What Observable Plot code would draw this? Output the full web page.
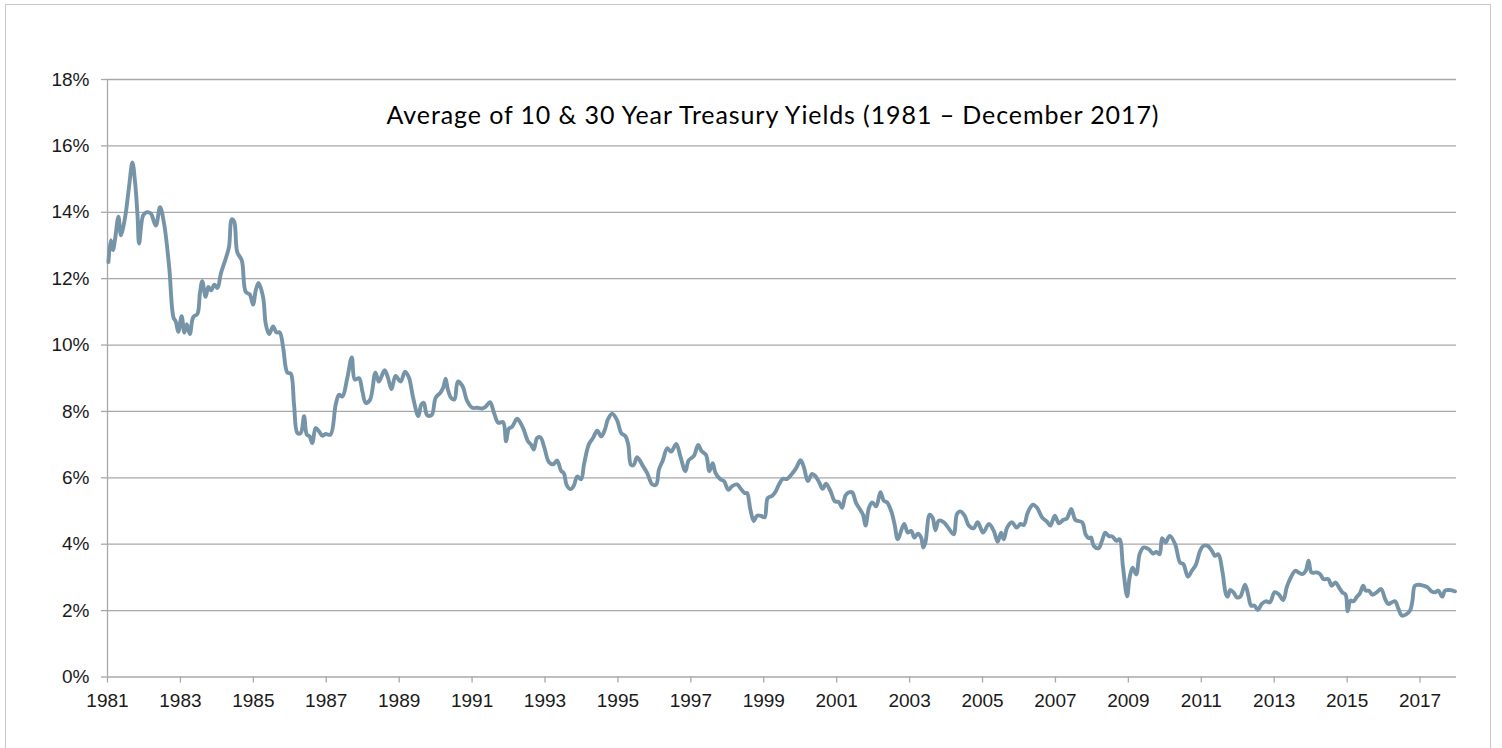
<!DOCTYPE html>
<html><head><meta charset="utf-8">
<script src="https://cdn.jsdelivr.net/npm/d3@7"></script>
<script src="https://cdn.jsdelivr.net/npm/@observablehq/plot@0.6"></script>
<style>
html,body{margin:0;padding:0;background:#fff;width:1502px;height:748px;overflow:hidden;}
#wrap{position:relative;width:1502px;height:748px;}
#border{position:absolute;left:5px;top:4px;width:1486px;height:780px;border:1px solid #c8c8c8;box-sizing:border-box;}
#chart{position:absolute;left:0;top:0;}
</style></head><body>
<div id="wrap"><div id="border"></div><div id="chart"></div></div>
<script>
// Months since January 1981 and the yield (%)
const months = [
0.3,1.1,1.8,2.5,3.6,4.4,5.1,6.0,7.1,8.2,9.1,9.9,10.4,11.7,12.8,14.2,15.9,17.3,18.6,20.3,
21.7,22.5,23.3,24.4,25.3,26.1,27.1,28.2,29.6,30.4,31.2,32.3,33.2,34.1,35.2,36.2,37.3,38.9,40.0,40.9,
41.7,42.7,44.2,45.5,46.8,47.9,48.8,49.7,51.2,52.1,53.2,54.5,55.6,56.7,57.8,59.2,60.3,61.4,62.5,63.6,
64.7,65.6,66.5,67.4,68.5,69.6,70.7,71.8,73.4,75.1,76.2,77.3,78.9,80.4,81.4,82.8,83.9,85.0,86.4,88.2,
89.3,91.2,92.3,93.5,94.8,96.5,97.9,99.2,100.6,102.3,103.3,104.1,105.2,106.7,108.0,109.6,110.5,111.3,112.0,113.1,
114.2,115.3,116.8,118.4,120.1,121.7,123.3,124.4,125.9,127.2,128.6,130.2,131.2,132.1,133.2,134.8,135.9,137.0,138.4,139.4,
140.3,141.4,142.5,143.8,145.3,146.7,148.0,149.3,150.2,151.1,152.4,153.5,154.6,155.9,156.8,158.4,159.8,161.2,162.5,163.7,
164.7,166.1,167.7,169.1,170.5,171.4,172.3,173.2,174.3,176.2,177.6,179.3,180.6,181.5,182.8,184.2,185.5,187.2,188.6,190.2,
191.3,193.0,194.4,195.5,197.0,198.1,199.2,200.1,201.8,202.9,204.3,205.6,207.2,208.7,209.8,210.5,211.6,212.7,213.8,215.2,
216.3,217.3,218.8,219.9,221.0,222.3,223.7,225.3,226.7,228.1,229.2,230.5,231.9,233.0,234.3,235.4,236.5,238.0,239.4,240.7,
241.8,242.9,244.0,245.1,246.4,247.8,248.7,249.5,250.6,251.7,253.0,254.4,255.5,256.6,258.0,259.1,260.1,262.2,263.4,264.5,
265.6,266.7,267.8,268.5,269.2,270.6,271.6,272.5,273.6,275.3,276.7,278.5,279.6,280.7,282.1,283.5,285.1,286.4,288.2,290.1,
291.7,293.0,294.1,295.0,296.1,297.7,299.2,300.5,301.6,302.9,304.6,306.0,307.6,309.2,310.3,311.8,313.1,314.5,315.8,317.2,
318.6,320.8,321.9,323.0,323.7,324.6,326.2,327.3,328.4,329.5,330.8,332.1,333.1,334.2,335.6,336.4,337.4,338.6,339.7,341.0,
342.7,344.1,345.2,346.3,347.1,348.2,349.6,351.4,353.0,354.1,355.6,356.9,358.2,359.6,360.7,362.1,363.5,364.5,365.6,367.0,
368.1,368.7,369.5,370.6,371.7,372.8,374.4,375.5,376.4,377.5,378.6,379.9,381.2,382.6,384.1,385.4,387.0,388.1,389.2,390.9,
392.0,393.3,394.4,395.3,396.3,398.0,399.1,400.2,401.8,402.9,404.2,405.3,406.4,407.5,408.2,409.1,410.1,411.1,412.2,413.3,
414.1,415.2,416.3,417.7,419.2,420.5,421.6,422.7,423.8,424.9,426.0,427.3,428.7,429.5,430.3,431.7,433.1,434.5,435.8,436.9,
438.0,439.3,440.2,441.8,443.5
];
const yields = [
12.5,13.16,12.86,13.2,13.87,13.31,13.52,13.97,14.78,15.5,14.88,13.87,13.06,13.9,14.0,13.97,13.6,14.15,13.67,12.35,
10.84,10.7,10.4,10.87,10.38,10.63,10.33,10.84,10.94,11.55,11.92,11.45,11.75,11.65,11.82,11.72,12.15,12.6,12.96,13.79,
13.72,12.8,12.55,11.6,11.53,11.22,11.65,11.87,11.45,10.63,10.33,10.56,10.38,10.38,9.93,9.17,9.14,8.2,7.35,7.35,
7.86,7.3,7.25,7.05,7.5,7.4,7.27,7.32,7.3,8.2,8.5,8.45,9.0,9.63,8.96,9.0,8.6,8.26,8.35,9.17,
8.9,9.24,9.02,8.67,9.07,8.9,9.2,9.02,8.41,7.86,8.21,8.26,7.89,7.89,8.41,8.57,8.72,8.99,8.67,8.41,
8.36,8.9,8.77,8.31,8.11,8.11,8.09,8.14,8.28,7.96,7.66,7.68,7.1,7.48,7.54,7.78,7.66,7.45,7.1,7.0,
6.85,7.2,7.22,6.9,6.47,6.41,6.52,6.21,6.14,5.79,5.66,5.77,6.04,5.96,6.39,7.0,7.2,7.42,7.25,7.45,
7.76,7.93,7.74,7.35,7.25,7.0,6.39,6.39,6.62,6.36,6.15,5.8,5.8,6.25,6.53,6.89,6.79,7.02,6.63,6.2,
6.53,6.66,6.99,6.81,6.69,6.2,6.44,6.15,5.95,5.9,5.64,5.75,5.8,5.64,5.54,5.54,5.04,4.7,4.86,4.85,
4.81,5.39,5.46,5.59,5.8,5.97,5.97,6.12,6.3,6.53,6.32,5.9,6.12,6.05,5.85,5.67,5.82,5.59,5.29,5.27,
5.1,5.47,5.56,5.56,5.24,5.03,4.88,4.56,5.09,5.26,5.14,5.57,5.31,5.26,4.98,4.58,4.15,4.61,4.35,4.4,
4.2,4.32,4.2,3.9,4.05,4.89,4.79,4.42,4.71,4.66,4.5,4.3,4.91,4.99,4.86,4.56,4.48,4.66,4.35,4.61,
4.4,4.07,4.35,4.15,4.5,4.66,4.5,4.61,4.58,4.96,5.19,5.09,4.81,4.68,4.56,4.86,4.63,4.73,4.78,5.06,
4.73,4.66,4.3,4.18,4.2,3.95,3.88,4.1,4.35,4.25,4.23,4.1,4.15,3.34,2.43,2.99,3.29,3.09,3.7,3.9,
3.85,3.72,3.77,3.7,4.18,4.05,4.25,4.0,3.45,3.4,3.02,3.2,3.38,3.8,3.95,3.95,3.8,3.65,3.7,3.15,
2.5,2.42,2.62,2.55,2.4,2.42,2.78,2.45,2.15,2.15,2.02,2.2,2.28,2.25,2.55,2.5,2.32,2.7,2.95,3.2,
3.15,3.1,3.2,3.5,3.15,3.15,3.1,2.95,2.95,2.75,2.85,2.7,2.55,2.48,1.98,2.3,2.28,2.4,2.52,2.75,
2.6,2.6,2.48,2.55,2.65,2.35,2.2,2.25,2.28,2.05,1.85,1.88,2.0,2.3,2.75,2.78,2.75,2.7,2.58,2.55,
2.6,2.42,2.6,2.62,2.58
];
const tickYears = [1981,1983,1985,1987,1989,1991,1993,1995,1997,1999,2001,2003,2005,2007,2009,2011,2013,2015,2017];
const yTicks = [0,2,4,6,8,10,12,14,16,18];
const title = "Average of 10 & 30 Year Treasury Yields (1981 \u2013 December 2017)";

const data = months.map((m, i) => ({date: 1981 + m / 12, value: yields[i]}));
const xDomain = [1981, 2018];
const gridColor = "#a8a8a8";

const chart = Plot.plot({
  width: 1502,
  height: 748,
  marginLeft: 107,
  marginRight: 46,
  marginTop: 79,
  marginBottom: 71.5,
  style: {fontFamily: "'Liberation Sans', Arial, sans-serif", fontSize: "19px", color: "#1a1a1a", background: "transparent", overflow: "visible"},
  x: {domain: xDomain, label: null},
  y: {domain: [0, 18], label: null},
  marks: [
    Plot.gridY(yTicks, {stroke: gridColor, strokeOpacity: 1, strokeWidth: 1.3}),
    Plot.ruleX([xDomain[0]], {stroke: gridColor, strokeWidth: 1.3}),
    Plot.axisX({ticks: tickYears, tickFormat: d => String(d), tickSize: 6, tickPadding: 10, stroke: gridColor, fill: "#1a1a1a", label: null, strokeWidth: 1.3}),
    Plot.axisY({ticks: yTicks, tickFormat: d => d + "%", tickSize: 6, tickPadding: 12, stroke: gridColor, fill: "#1a1a1a", label: null, strokeWidth: 1.3}),
    Plot.line(data, {x: "date", y: "value", stroke: "#7694a8", strokeWidth: 3.9, strokeLinejoin: "round", strokeLinecap: "round", curve: "catmull-rom"}),
    Plot.text([title], {text: d => d, frameAnchor: "top", textAnchor: "middle", lineAnchor: "bottom", dx: -9.5, dy: 44,
      fontFamily: "Lato, 'Open Sans', sans-serif", fontSize: 25, fill: "#000"})
  ]
});
document.getElementById("chart").appendChild(chart);
// stretch the title to the reference's measured width
d3.select(chart).selectAll("text").filter(function() { return this.textContent === title; })
  .attr("textLength", 772).attr("lengthAdjust", "spacing");
</script>
</body></html>
